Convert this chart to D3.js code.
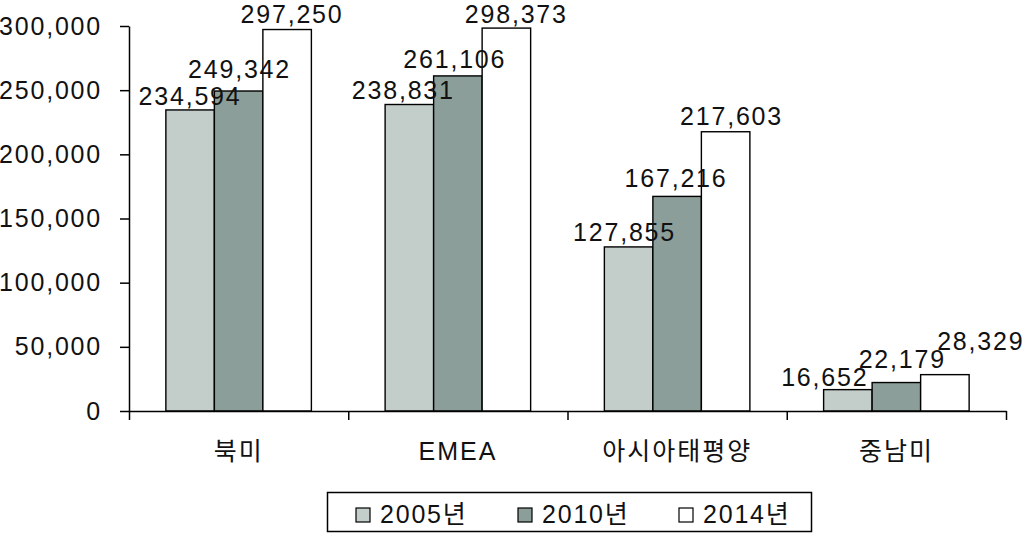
<!DOCTYPE html>
<html>
<head>
<meta charset="utf-8">
<script src="https://cdn.jsdelivr.net/npm/d3@7"></script>
<style>
  html, body { margin: 0; padding: 0; background: #fff; }
  svg { display: block; }
  text { font-family: "Liberation Sans", "Noto Sans CJK KR", sans-serif; fill: #111; }
</style>
</head>
<body>
<svg id="chart" width="1024" height="535"></svg>
<script>
// ---- data ----
const categories = ["북미", "EMEA", "아시아태평양", "중남미"];
const seriesNames = ["2005년", "2010년", "2014년"];
const values2005 = [234594, 238831, 127855, 16652];
const values2010 = [249342, 261106, 167216, 22179];
const values2014 = [297250, 298373, 217603, 28329];
const yTicks = [0, 50000, 100000, 150000, 200000, 250000, 300000];

// ---- layout / style (not data) ----
const colors = ["#c3cecb", "#8b9e99", "#ffffff"];
// label nudges [dx, gap above bar top] per series per category
const labelNudge = [
  [[-1, 5], [-7, 5.5], [-5, 5.5], [-24, 4]],
  [[0, 13], [-4, 8], [-2, 9.5], [5, 14.5]],
  [[4, 6.2], [9, 5], [5, 7], [35, 25]]
];

const seriesValues = [values2005, values2010, values2014];
const svg = d3.select("#chart");

const x0 = 129, x1 = 1006, yTop = 26, yBase = 411;
const fontSize = 25, ls = 1.8;

const x = d3.scaleBand().domain(categories).range([x0, x1]).padding(0);
const xs = d3.scaleBand().domain(seriesNames).range([0, x.bandwidth()])
  .paddingInner(0).paddingOuter(0.76);
const y = d3.scaleLinear().domain([0, 300000]).range([yBase, yTop]);

// bars
seriesNames.forEach((s, si) => {
  const g = svg.append("g");
  g.selectAll("rect").data(categories).join("rect")
    .attr("x", c => x(c) + xs(s))
    .attr("y", (c, i) => y(seriesValues[si][i]))
    .attr("width", xs.bandwidth())
    .attr("height", (c, i) => y(0) - y(seriesValues[si][i]))
    .attr("fill", colors[si])
    .attr("stroke", "#000")
    .attr("stroke-width", 1.4);
});

// y axis
const yAxis = svg.append("g").attr("transform", `translate(${x0},0)`)
  .call(d3.axisLeft(y).tickValues(yTicks).tickFormat(d3.format(",")).tickSize(9).tickSizeOuter(0).tickPadding(18));
yAxis.selectAll("path, line").attr("stroke", "#000").attr("stroke-width", 1.5);
yAxis.selectAll("text")
  .style("font-size", fontSize + "px")
  .style("letter-spacing", ls + "px")
  .attr("fill", "#111");

// x axis: boundary ticks
const xb = d3.scaleLinear().domain([0, categories.length]).range([x0, x1]);
const xAxis = svg.append("g").attr("transform", `translate(0,${yBase})`)
  .call(d3.axisBottom(xb).tickValues(d3.range(categories.length + 1)).tickSize(9).tickSizeOuter(0).tickFormat(""));
xAxis.selectAll("path, line").attr("stroke", "#000").attr("stroke-width", 1.5);

// category labels
const xLab = svg.append("g").attr("transform", `translate(0,${yBase})`)
  .call(d3.axisBottom(x).tickSize(0).tickPadding(31));
xLab.select(".domain").remove();
xLab.selectAll("text")
  .style("font-size", "25px")
  .style("letter-spacing", "2px")
  .attr("fill", "#111")
  .attr("dy", "0.72em");

// value labels
seriesNames.forEach((s, si) => {
  svg.append("g").selectAll("text").data(categories).join("text")
    .attr("x", (c, i) => x(c) + xs(s) + xs.bandwidth() / 2 + labelNudge[si][i][0] + ls / 2)
    .attr("y", (c, i) => y(seriesValues[si][i]) - labelNudge[si][i][1])
    .attr("text-anchor", "middle")
    .style("font-size", fontSize + "px")
    .style("letter-spacing", ls + "px")
    .text((c, i) => d3.format(",")(seriesValues[si][i]));
});

// legend
const legend = svg.append("g");
legend.append("rect")
  .attr("x", 327.5).attr("y", 492.5).attr("width", 484).attr("height", 39)
  .attr("fill", "#fff").attr("stroke", "#000").attr("stroke-width", 1.5);
const legX = [356, 518, 679];
seriesNames.forEach((s, si) => {
  legend.append("rect")
    .attr("x", legX[si]).attr("y", 508).attr("width", 14).attr("height", 14)
    .attr("fill", colors[si]).attr("stroke", "#000").attr("stroke-width", 1.2);
  legend.append("text")
    .attr("x", legX[si] + 24).attr("y", 514)
    .attr("dominant-baseline", "central")
    .style("font-size", fontSize + "px")
    .style("letter-spacing", ls + "px")
    .text(s);
});
</script>
</body>
</html>
